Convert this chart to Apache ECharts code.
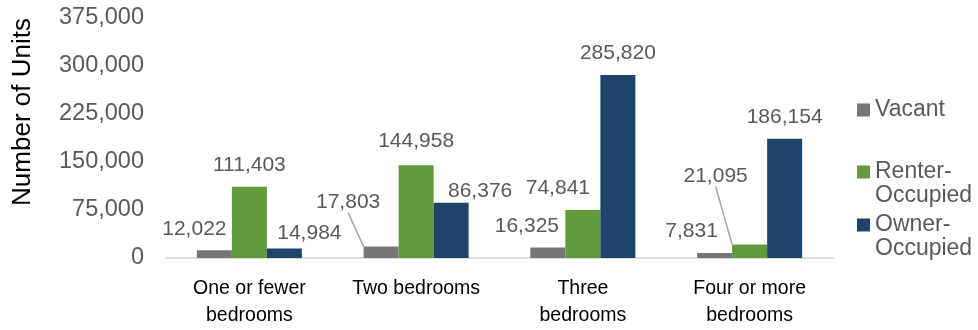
<!DOCTYPE html>
<html>
<head>
<meta charset="utf-8">
<script src="https://cdn.jsdelivr.net/npm/echarts@6/dist/echarts.min.js"></script>
<style>
  html, body { margin: 0; padding: 0; background: #fff; }
  #chart { width: 978px; height: 330px; }
</style>
</head>
<body>
<div id="chart"></div>
<script>
// ==================== 数据 ====================

const categories = ['One or fewer\nbedrooms', 'Two bedrooms', 'Three\nbedrooms', 'Four or more\nbedrooms'];
const seriesNames = ['Vacant', 'Renter-Occupied', 'Owner-Occupied'];
const vacant = [12022, 17803, 16325, 7831];
const renter = [111403, 144958, 74841, 21095];
const owner = [14984, 86376, 285820, 186154];
const yMin = 0;
const yMax = 375000;
const yStep = 75000;

// ==================== 样式 ====================

const colors = ['#767676', '#619a3b', '#1e4569'];
const FONT = 'Liberation Sans';

// 标签偏移（相对默认 top 位置），按系列 / 类目
const labelShift = [
  [[-20, 0], [-33, -23], [-21, 0], [-23, 0]],
  [[0, 0], [0, -3], [-25, 0], [-34, -47]],
  [[25, 6], [29, 10], [0, 0], [0, 0]]
];
// 需要引导线的标签
const leaderLines = [
  [false, true, false, false],
  [false, false, false, true],
  [false, false, false, false]
];

function fmt(num) {
  return num.toLocaleString('en-US');
}

function buildSeries(name, values, idx) {
  return {
    name: name,
    type: 'bar',
    barWidth: 35,
    barGap: '0%',
    itemStyle: { color: colors[idx] },
    data: values.map((v, i) => ({
      value: v,
      labelLine: { show: leaderLines[idx][i] }
    })),
    label: {
      show: true,
      position: 'top',
      distance: 11,
      color: '#595959',
      fontFamily: FONT,
      fontSize: 21,
      formatter: p => fmt(p.value)
    },
    labelLine: {
      show: false,
      lineStyle: { color: '#a6a6a6', width: 1.5 }
    },
    labelLayout: params => {
      const s = labelShift[idx][params.dataIndex];
      return { dx: s[0], dy: s[1] };
    },
    emphasis: { disabled: true }
  };
}

const legendText = { fontFamily: FONT, fontSize: 23, color: '#595959', lineHeight: 24 };

const chart = echarts.init(document.getElementById('chart'));

chart.setOption({
  animation: false,
  textStyle: { fontFamily: FONT },
  grid: { left: 166, right: 145, top: 18, bottom: 72 },
  legend: [
    {
      data: ['Vacant'],
      orient: 'vertical',
      left: 852,
      top: 93,
      icon: 'rect',
      itemWidth: 13,
      itemHeight: 13,
      selectedMode: false,
      textStyle: legendText
    },
    {
      data: ['Renter-Occupied', 'Owner-Occupied'],
      orient: 'vertical',
      left: 852,
      top: 131,
      icon: 'rect',
      itemWidth: 13,
      itemHeight: 13,
      itemGap: -19,
      selectedMode: false,
      // 前置空行让色块对齐第一行文字
      formatter: name => '\n' + name.replace('-', '-\n'),
      textStyle: legendText
    }
  ],
  xAxis: {
    type: 'category',
    data: categories,
    axisLine: { lineStyle: { color: '#d4d4d4', width: 1.5 } },
    axisTick: { show: false },
    axisLabel: {
      color: '#000',
      fontFamily: FONT,
      fontSize: 19.5,
      lineHeight: 27,
      margin: 17,
      interval: 0
    }
  },
  yAxis: {
    type: 'value',
    min: yMin,
    max: yMax,
    interval: yStep,
    name: 'Number of Units',
    nameLocation: 'middle',
    nameGap: 130,
    nameRotate: 90,
    nameTextStyle: {
      color: '#000',
      fontFamily: FONT,
      fontSize: 26,
      padding: [0, 0, 0, 52]
    },
    axisLine: { show: false },
    axisTick: { show: false },
    splitLine: { show: false },
    axisLabel: {
      color: '#595959',
      fontFamily: FONT,
      fontSize: 23.5,
      margin: 22,
      formatter: v => fmt(v)
    }
  },
  series: [
    buildSeries(seriesNames[0], vacant, 0),
    buildSeries(seriesNames[1], renter, 1),
    buildSeries(seriesNames[2], owner, 2)
  ]
});
</script>
</body>
</html>
